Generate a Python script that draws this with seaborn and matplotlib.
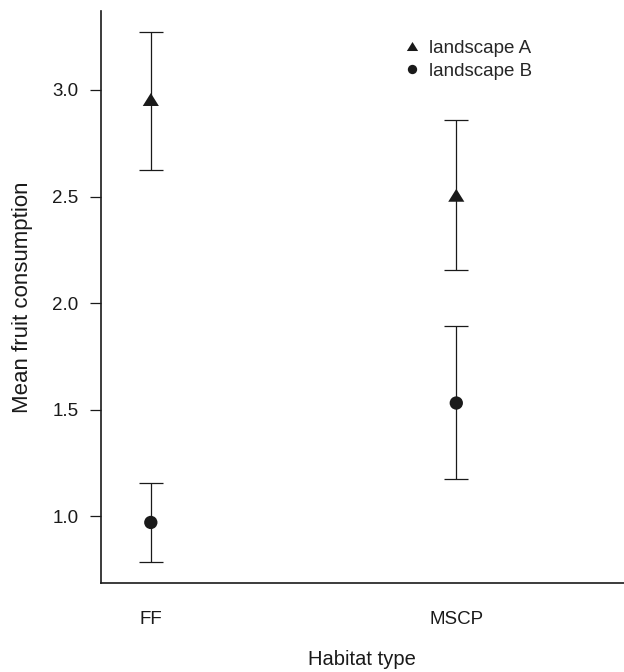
import pandas as pd
import matplotlib
matplotlib.use("Agg")
import matplotlib.pyplot as plt
import seaborn as sns

# valores
habitats = ["FF", "FF", "MSCP", "MSCP"]
paisagens = ["landscape A", "landscape B", "landscape A", "landscape B"]
medias = [2.955, 0.972, 2.506, 1.532]
limite_inf = [2.623, 0.786, 2.158, 1.176]
limite_sup = [3.270, 1.158, 2.859, 1.892]

df = pd.DataFrame({
    "habitat": habitats,
    "paisagem": paisagens,
    "media": medias,
    "inf": limite_inf,
    "sup": limite_sup,
})

sns.set_style("ticks")
plt.rcParams["font.family"] = ["Liberation Sans", "DejaVu Sans"]

fig = plt.figure(figsize=(6.24, 6.72), dpi=100)
ax = fig.add_axes([0.1614, 0.1324, 0.8386, 0.8512])

cor = "#1a1a1a"
triangulo = [(-1, -0.8), (1, -0.8), (0, 0.8)]

# barras de erro primeiro, marcadores por cima
ax.errorbar(df["habitat"], df["media"],
            yerr=[df["media"] - df["inf"], df["sup"] - df["media"]],
            fmt="none", ecolor=cor, elinewidth=0.9, capsize=8.3,
            capthick=0.9, zorder=1)

sns.scatterplot(
    data=df, x="habitat", y="media",
    style="paisagem", size="paisagem",
    markers={"landscape A": triangulo, "landscape B": "o"},
    sizes={"landscape A": 135, "landscape B": 92},
    color=cor, edgecolor=cor, linewidth=0, zorder=3, ax=ax,
)

sns.move_legend(
    ax, "upper left", bbox_to_anchor=(0.618, 0.966),
    bbox_transform=fig.transFigure, title=None, frameon=False,
    markerscale=0.7, handlelength=1.0, handletextpad=0.4,
    labelspacing=0.3, fontsize=13.5,
)

ax.set_xlim(-0.164, 1.549)
ax.set_ylim(0.688, 3.37)
ax.set_yticks([1.0, 1.5, 2.0, 2.5, 3.0])
ax.yaxis.set_major_formatter(matplotlib.ticker.FormatStrFormatter("%.1f"))

ax.tick_params(axis="y", length=8, width=0.9, pad=8, labelsize=13.5,
               color=cor, labelcolor=cor)
ax.tick_params(axis="x", length=0, pad=20, labelsize=13.5, labelcolor=cor)

ax.set_xlabel("Habitat type", fontsize=14.5, labelpad=16, color=cor)
ax.set_ylabel("Mean fruit consumption", fontsize=16, labelpad=14, color=cor)

sns.despine(ax=ax)
for lado in ["left", "bottom"]:
    ax.spines[lado].set_linewidth(1.2)
    ax.spines[lado].set_color(cor)

fig.savefig("out.png", dpi=100)
